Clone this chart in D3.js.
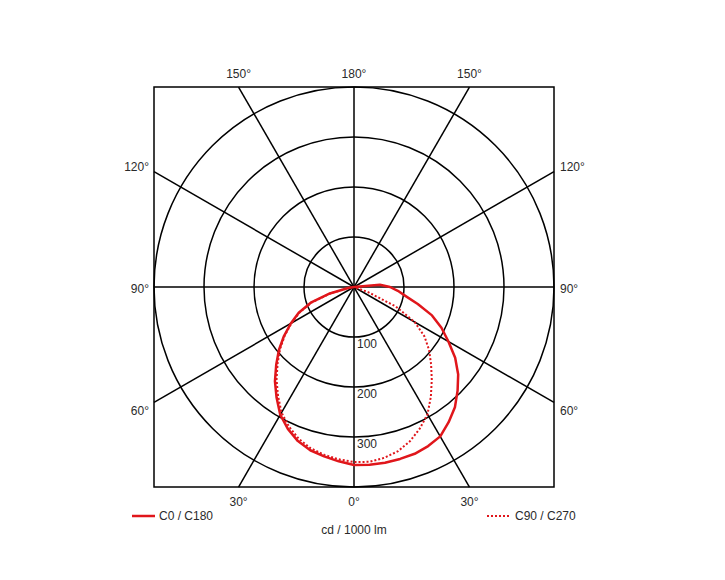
<!DOCTYPE html>
<html>
<head>
<meta charset="utf-8">
<script src="https://cdn.jsdelivr.net/npm/d3@7"></script>
<style>
    body { margin: 0; background: #fff; }
    text { font-family: "Liberation Sans", Arial, sans-serif; font-size: 12px; fill: #2a2a2a; }
</style>
</head>
<body>
<script>
// gamma angles (deg), 0 = straight down, negative = left half
const anglesC0 = [-90, -85, -80, -75, -70, -65, -60, -55, -50, -45, -40, -35, -30, -25, -20, -15, -10, -5,
    0, 5, 10, 15, 20, 25, 30, 35, 40, 45, 50, 55, 60, 65, 70, 75, 80, 85, 90, 95, 100];
const valuesC0 = [0, 0, 12, 50, 92, 122, 146, 171, 196, 220, 246, 270, 295, 313, 328, 338, 344, 350,
    356, 357, 357, 356, 355, 351, 345, 330, 314, 293, 272, 247, 218, 193, 166, 132, 105, 88, 72, 52, 0];

const anglesC90 = [-90, -85, -80, -75, -70, -65, -60, -55, -50, -45, -40, -35, -30, -25, -20, -15, -10, -5,
    0, 5, 10, 15, 20, 25, 30, 35, 40, 45, 50, 55, 60, 65, 70, 75, 80, 85, 90];
const valuesC90 = [0, 0, 10, 48, 90, 120, 144, 169, 193, 216, 241, 265, 290, 308, 323, 334, 341, 346,
    350, 351, 347, 340, 328, 312, 294, 268, 242, 218, 196, 172, 140, 92, 30, 0, 0, 0, 0];

const ringValues = [100, 200, 300, 400];
const ringLabels = ["100", "200", "300"];
const spokeAngles = [0, 30, 60, 90, 120, 150, 180, 210, 240, 270, 300, 330];
const angleLabels = [0, 30, 60, 90, 120, 150, 180];

const seriesNames = ["C0 / C180", "C90 / C270"];
const unitLabel = "cd / 1000 lm";

const width = 725;
const height = 580;
const cx = 354;
const cy = 287;
const half = 200;
const red = "#e0161b";

const svg = d3.select("body").append("svg")
    .attr("width", width)
    .attr("height", height);

const r = d3.scaleLinear()
    .domain([0, 400])
    .range([0, half]);

const rad = d => d * Math.PI / 180;

const g = svg.append("g")
    .attr("transform", `translate(${cx}, ${cy})`);

// frame
g.append("rect")
    .attr("x", -half)
    .attr("y", -half)
    .attr("width", half * 2)
    .attr("height", half * 2)
    .attr("fill", "none")
    .attr("stroke", "#000")
    .attr("stroke-width", 1.5);

// rings
g.selectAll(".ring")
    .data(ringValues)
    .enter()
    .append("circle")
    .attr("class", "ring")
    .attr("r", d => r(d))
    .attr("fill", "none")
    .attr("stroke", "#000")
    .attr("stroke-width", 1.5);

// spokes run out to the frame
function spokeEnd(a) {
    const s = Math.sin(rad(a));
    const c = Math.cos(rad(a));
    const t = half / Math.max(Math.abs(s), Math.abs(c));
    return [t * s, t * c];
}

g.selectAll(".spoke")
    .data(spokeAngles)
    .enter()
    .append("line")
    .attr("class", "spoke")
    .attr("x1", 0)
    .attr("y1", 0)
    .attr("x2", d => spokeEnd(d)[0])
    .attr("y2", d => spokeEnd(d)[1])
    .attr("stroke", "#000")
    .attr("stroke-width", 1.5);

// ring value labels
g.selectAll(".ringLabel")
    .data(ringLabels)
    .enter()
    .append("text")
    .attr("x", 3)
    .attr("y", (d, i) => r(ringValues[i]) + 11)
    .text(d => d);

// angle labels on both sides
angleLabels.forEach(a => {
    [1, -1].forEach(side => {
        if ((a === 0 || a === 180) && side === -1) return;
        const [ex, ey] = spokeEnd(a * side);
        const t = g.append("text").text(`${a}°`);
        if (Math.abs(ey) >= half - 0.5 && Math.abs(ex) < half - 0.5) {
            t.attr("x", ex)
                .attr("y", ey > 0 ? half + 19 : -half - 9)
                .style("text-anchor", "middle");
        } else {
            t.attr("x", side > 0 ? half + 6 : -half - 5)
                .attr("y", ey * 1.06 + 6)
                .style("text-anchor", side > 0 ? "start" : "end");
        }
    });
});

const line = d3.lineRadial()
    .angle(d => Math.PI - rad(d[0]))
    .radius(d => r(d[1]));

g.append("path")
    .datum(d3.zip(anglesC90, valuesC90))
    .attr("d", line)
    .attr("fill", "none")
    .attr("stroke", red)
    .attr("stroke-width", 2)
    .attr("stroke-dasharray", "2,2");

g.append("path")
    .datum(d3.zip(anglesC0, valuesC0))
    .attr("d", line)
    .attr("fill", "none")
    .attr("stroke", red)
    .attr("stroke-width", 2.5)
    .attr("stroke-linejoin", "round");

// legend
const legend = svg.append("g");

legend.append("line")
    .attr("x1", 132).attr("x2", 155)
    .attr("y1", 516).attr("y2", 516)
    .attr("stroke", red)
    .attr("stroke-width", 2.5);

legend.append("text")
    .attr("x", 159)
    .attr("y", 520)
    .text(seriesNames[0]);

legend.append("line")
    .attr("x1", 487).attr("x2", 509)
    .attr("y1", 516).attr("y2", 516)
    .attr("stroke", red)
    .attr("stroke-width", 2)
    .attr("stroke-dasharray", "2,2");

legend.append("text")
    .attr("x", 515)
    .attr("y", 520)
    .text(seriesNames[1]);

svg.append("text")
    .attr("x", cx)
    .attr("y", 534)
    .style("text-anchor", "middle")
    .text(unitLabel);
</script>
</body>
</html>
